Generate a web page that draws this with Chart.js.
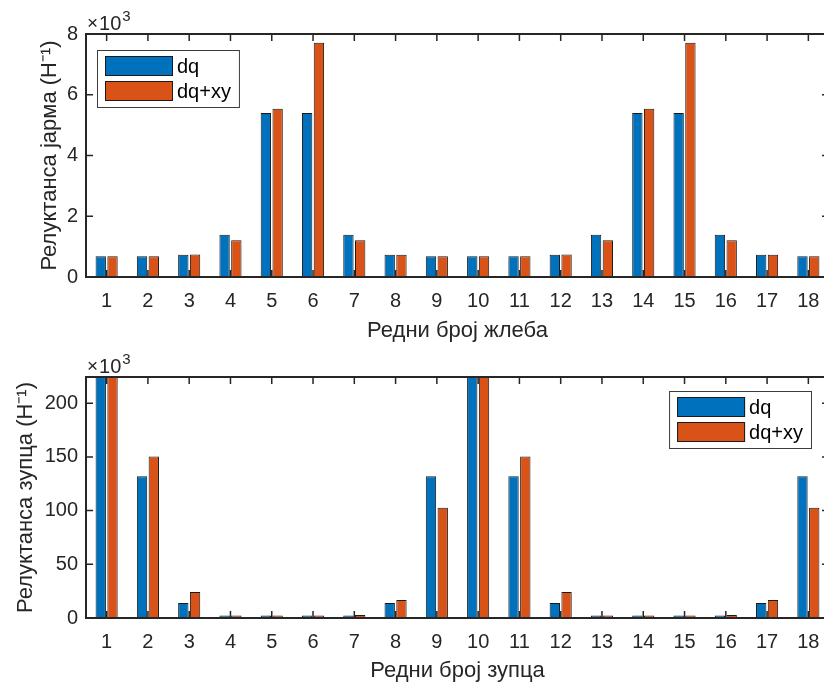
<!DOCTYPE html>
<html>
<head>
<meta charset="utf-8">
<script src="https://cdn.jsdelivr.net/npm/chart.js@4/dist/chart.umd.min.js"></script>
<style>
  html, body { margin: 0; padding: 0; background: #fff; overflow: hidden; }
  #wrap { position: relative; width: 824px; height: 685px; overflow: hidden; background: #fff; }
  canvas { position: absolute; left: 0; }
  #c1 { top: 0; }
  #c2 { top: 342px; }
</style>
</head>
<body>
<div id="wrap">
  <canvas id="c1" width="832" height="346"></canvas>
  <canvas id="c2" width="832" height="346"></canvas>
</div>
<script>
// ---------- data ----------
const categories = ['1','2','3','4','5','6','7','8','9','10','11','12','13','14','15','16','17','18'];
const seriesNames = ['dq', 'dq+xy'];

// Top: yoke reluctance (×10^3 H^-1)
const yokeDq   = [0.68, 0.68, 0.73, 1.39, 5.40, 5.40, 1.39, 0.73, 0.68, 0.68, 0.68, 0.73, 1.39, 5.40, 5.40, 1.39, 0.73, 0.68];
const yokeDqXy = [0.68, 0.68, 0.74, 1.21, 5.54, 7.71, 1.21, 0.73, 0.68, 0.68, 0.68, 0.74, 1.21, 5.54, 7.71, 1.21, 0.73, 0.68];
const yokeTicks = [0, 2, 4, 6, 8];

// Bottom: tooth reluctance (×10^3 H^-1)
const toothDq   = [250, 132, 13.9, 2.4, 2.4, 2.4, 2.4, 13.9, 132, 250, 132, 13.9, 2.4, 2.4, 2.4, 2.4, 13.9, 132];
const toothDqXy = [250, 150.4, 24.1, 2.4, 2.4, 2.4, 2.8, 16.7, 102.7, 250, 150.4, 24.1, 2.4, 2.4, 2.4, 2.8, 16.7, 102.7];
const toothTicks = [0, 50, 100, 150, 200];

const yokeLabels = { x: 'Редни број жлеба', y: 'Релуктанса јарма (H⁻¹)' };
const toothLabels = { x: 'Редни број зупца', y: 'Релуктанса зупца (H⁻¹)' };

// ---------- style ----------
const BLUE = '#0072BD';
const ORANGE = '#D95319';
const AXIS = '#262626';
const FONT = '"Liberation Sans", Arial, Helvetica, sans-serif';

const matlabAxes = {
  id: 'matlabAxes',
  afterDatasetsDraw(chart) {
    const opts = chart.options.plugins.matlabAxes;
    const { ctx, chartArea: a } = chart;
    const xs = chart.scales.x, ys = chart.scales.y;
    const L = 7;
    ctx.save();
    ctx.strokeStyle = AXIS;
    ctx.lineWidth = 1.5;
    ctx.beginPath();
    xs.ticks.forEach((t, i) => {
      const px = xs.getPixelForTick(i);
      ctx.moveTo(px, a.bottom); ctx.lineTo(px, a.bottom - L);
      ctx.moveTo(px, a.top); ctx.lineTo(px, a.top + L);
    });
    ys.ticks.forEach((t, i) => {
      const py = ys.getPixelForTick(i);
      ctx.moveTo(a.left, py); ctx.lineTo(a.left + L, py);
      ctx.moveTo(a.right, py); ctx.lineTo(a.right - L, py);
    });
    ctx.stroke();
    ctx.lineWidth = 2;
    ctx.strokeRect(a.left, a.top, a.right - a.left, a.bottom - a.top);

    // exponent label
    ctx.fillStyle = AXIS;
    ctx.textBaseline = 'alphabetic';
    ctx.textAlign = 'left';
    const bx = a.left + 1, by = a.top - 4;
    ctx.font = '19px ' + FONT;
    ctx.fillText('×', bx, by - 1);
    const wx = ctx.measureText('×').width;
    ctx.font = '20px ' + FONT;
    ctx.fillText('10', bx + wx + 1, by);
    const w10 = ctx.measureText('10').width;
    ctx.font = '15px ' + FONT;
    ctx.fillText('3', bx + wx + 1 + w10 + 1, by - 9);

    // legend box
    const lg = opts.legend;
    const ds = chart.data.datasets;
    ctx.font = '20px ' + FONT;
    let tw = 0;
    ds.forEach(d => { tw = Math.max(tw, ctx.measureText(d.label).width); });
    const boxW = 8 + 68 + 4 + tw + 8;
    const boxH = 57;
    const lx = lg.anchor === 'ne' ? a.right - lg.dx - boxW : a.left + lg.dx;
    const ly = a.top + lg.dy;
    ctx.fillStyle = '#fff';
    ctx.fillRect(lx, ly, boxW, boxH);
    ctx.strokeStyle = '#3c3c3c';
    ctx.lineWidth = 1;
    ctx.strokeRect(lx + 0.5, ly + 0.5, boxW, boxH);
    ds.forEach((d, i) => {
      const sx = lx + 8, sy = ly + 6 + i * 25;
      ctx.fillStyle = d.backgroundColor;
      ctx.fillRect(sx, sy, 68, 20);
      ctx.strokeStyle = '#1a1a1a';
      ctx.strokeRect(sx + 0.5, sy + 0.5, 67, 19);
      ctx.fillStyle = '#000';
      ctx.textBaseline = 'middle';
      ctx.fillText(d.label, sx + 68 + 4, sy + 11);
    });
    ctx.restore();
  }
};

function makeChart(id, dq, dqxy, ymax, ticks, labels, padTop, xHeight, xTitlePad, yTitlePad, legend) {
  return new Chart(document.getElementById(id), {
    type: 'bar',
    data: {
      labels: categories,
      datasets: [
        { label: seriesNames[0], data: dq, backgroundColor: BLUE, borderColor: '#1a1a1a', borderWidth: 1, borderSkipped: false,
          categoryPercentage: 0.57, barPercentage: 0.88 },
        { label: seriesNames[1], data: dqxy, backgroundColor: ORANGE, borderColor: '#1a1a1a', borderWidth: 1, borderSkipped: false,
          categoryPercentage: 0.57, barPercentage: 0.88 }
      ]
    },
    options: {
      responsive: false,
      animation: false,
      devicePixelRatio: 1,
      layout: { padding: { top: padTop, right: 3, left: 0, bottom: 0 } },
      plugins: {
        legend: { display: false },
        tooltip: { enabled: false },
        matlabAxes: { legend: legend }
      },
      scales: {
        x: {
          type: 'category',
          offset: true,
          grid: { display: false, drawTicks: false },
          border: { display: false },
          ticks: { color: AXIS, font: { family: FONT, size: 20 }, padding: 12, maxRotation: 0, autoSkip: false },
          title: { display: true, text: labels.x, color: AXIS, font: { family: FONT, size: 22 }, padding: { top: 0, bottom: xTitlePad } },
          afterFit: s => { s.height = xHeight; }
        },
        y: {
          min: 0, max: ymax,
          grid: { display: false, drawTicks: false },
          border: { display: false },
          afterBuildTicks: s => { s.ticks = ticks.map(v => ({ value: v })); },
          ticks: { color: AXIS, font: { family: FONT, size: 20 }, padding: 8 },
          title: { display: true, text: labels.y, color: AXIS, font: { family: FONT, size: 22 }, padding: { top: yTitlePad, bottom: 0 } },
          afterFit: s => { s.width = 86; }
        }
      }
    },
    plugins: [matlabAxes]
  });
}

makeChart('c1', yokeDq, yokeDqXy, 8, yokeTicks, yokeLabels, 34, 69, 2, 37, { anchor: 'nw', dx: 11, dy: 16 });
makeChart('c2', toothDq, toothDqXy, 224.4, toothTicks, toothLabels, 35, 70, 4, 13, { anchor: 'ne', dx: 18, dy: 14 });
</script>
</body>
</html>
